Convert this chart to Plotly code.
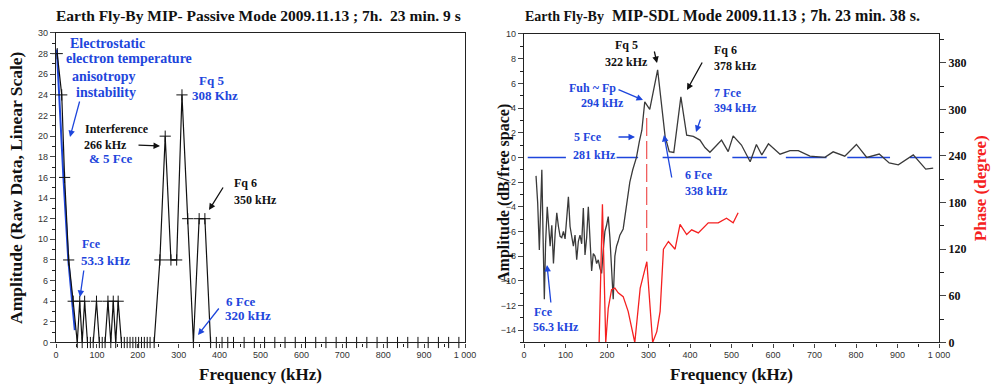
import plotly.graph_objects as go

# ---------------- data ----------------
# Left panel: MIP passive mode (raw amplitude, linear)
left_freq = [3, 14, 21, 31, 42, 52, 58, 64, 70, 77, 84, 91, 99, 106, 113, 120, 127, 134, 140, 146,
             152, 160, 167, 174, 181, 188, 195, 202, 209, 216, 223, 230, 240, 254, 267, 281, 295,
             308, 322, 336, 350, 364, 378, 392, 406, 420, 434, 460, 485, 510, 535, 560, 585, 610,
             635, 660, 685, 710, 735, 760, 785, 810, 835, 860, 885, 910, 935, 960, 985]
left_amp = [28, 24, 16, 8, 4, 0, 4, 0, 4, 0, 0, 0, 4, 0, 0, 0, 4, 0, 4, 0,
            4, 0, 0, 0, 0, 0, 0, 0, 0, 0, 0, 0, 0, 8, 20, 8, 8,
            24, 12, 0, 12, 12, 0, 0, 0, 0, 0, 0, 0, 0, 0, 0, 0, 0,
            0, 0, 0, 0, 0, 0, 0, 0, 0, 0, 0, 0, 0, 0, 0]
left_blue_freq = [2, 7, 18, 30, 46]
left_blue_amp = [28.4, 24.5, 16.1, 8.0, 1.2]

# Right panel: MIP-SDL mode amplitude (dB / free space)
right_freq = [29, 33, 37, 40, 43, 46, 49, 52, 56, 60, 63, 67, 71, 75, 79, 83, 87, 91, 95, 99, 103,
              107, 111, 115, 119, 123, 127, 131, 135, 139, 143, 147, 151, 155, 159, 163, 167, 171,
              175, 179, 183, 187, 191, 195, 199, 203, 207, 211, 215, 219, 223, 227, 231,
              239, 246, 255, 262, 271, 278, 284, 291, 303, 322, 340, 350, 361, 378, 392, 408,
              424, 436, 448, 462, 476, 492, 504, 524, 545, 560, 573, 589, 617, 641, 661, 689,
              725, 745, 773, 801, 826, 856, 880, 902, 938, 968, 986]
right_amp = [-1.5, -3.7, -7.5, -3.0, -1.0, -6.5, -11.5, -7.0, -4.0, -5.8, -7.2, -5.5, -8.6, -6.2,
             -4.5, -5.6, -6.4, -6.5, -6.0, -6.6, -5.2, -3.2, -5.6, -6.6, -7.2, -6.3, -8.3, -6.8,
             -6.3, -7.0, -4.1, -7.9, -6.5, -4.0, -6.7, -9.2, -7.8, -8.0, -8.6, -8.3, -9.0, -9.4,
             -7.5, -6.0, -5.5, -4.8, -6.5, -9.0, -11.5, -8.0, -7.2, -6.8, -6.3,
             -5.8, -4.0, -2.0, -1.0, 0.0, 1.3, 2.2, 4.5, 3.9, 7.1, 1.7, 0.47, 0.4, 4.9, 1.8, 1.7,
             1.4, 0.8, 0.42, 0.9, 1.4, 0.47, 1.74, 1.0, -0.35, 1.05, 0.2, 1.1, 0.26, 0.55, 0.55,
             0.1, 0.0, 0.45, 0.1, 1.05, 0.0, 0.27, -0.45, -0.6, 0.2, -0.95, -0.87]

# Right panel: phase (degree)
phase_freq = [181, 189, 197, 203, 211, 219, 227, 239, 251, 259, 267, 280, 288, 296, 304, 310,
              320, 328, 336, 348, 364, 376, 392, 404, 420, 444, 468, 488, 504, 516]
phase_deg = [0, 178, 0, 44, 68, 70, 64, 59, 40, 18, 0, 70, 87, 104, 44, 0,
             14, 40, 120, 130, 120, 152, 139, 145, 141, 154, 154, 160, 154, 167]

# Marker lines on right panel
fp_line_freq = [295.6, 295.6]
fp_line_amp = [3.2, -7.9]
zero_segments = [(9, 101), (223, 275), (334, 450), (502, 585), (631, 729), (779, 882), (930, 982)]

x_ticks = [0, 100, 200, 300, 400, 500, 600, 700, 800, 900, 1000]
x_ticktext = ["0", "100", "200", "300", "400", "500", "600", "700", "800", "900", "1 000"]
left_yticks = list(range(0, 31, 2))
right_yticks = list(range(-14, 11, 2))
phase_ticks = [0, 60, 120, 180, 240, 300, 360]
phase_ticktext = ["0", "60", "120", "180", "240", "300", "380"]

BLUE = "#1e46dc"
RED = "#f52020"
SERIF = "Liberation Serif, Times New Roman, serif"
SANS = "Liberation Sans, Arial, sans-serif"

fig = go.Figure()

fig.add_trace(go.Scatter(x=left_blue_freq, y=left_blue_amp, mode="lines",
                         line=dict(color=BLUE, width=2), xaxis="x", yaxis="y", showlegend=False))
fig.add_trace(go.Scatter(x=left_freq, y=left_amp, mode="lines+markers",
                         line=dict(color="#111", width=1.2),
                         marker=dict(symbol="cross-thin", size=8, line=dict(color="#111", width=1)),
                         xaxis="x", yaxis="y", showlegend=False, cliponaxis=False))

zx, zy = [], []
for a, b in zero_segments:
    zx += [a, b, None]
    zy += [0, 0, None]
fig.add_trace(go.Scatter(x=zx, y=zy, mode="lines", line=dict(color=BLUE, width=1.5),
                         xaxis="x2", yaxis="y2", showlegend=False))
fig.add_trace(go.Scatter(x=right_freq, y=right_amp, mode="lines",
                         line=dict(color="#3a3a3a", width=1.3), xaxis="x2", yaxis="y2", showlegend=False))
fig.add_trace(go.Scatter(x=fp_line_freq, y=fp_line_amp, mode="lines",
                         line=dict(color="#f06060", width=1.3, dash="18px,5px"),
                         xaxis="x2", yaxis="y2", showlegend=False))
fig.add_trace(go.Scatter(x=phase_freq, y=phase_deg, mode="lines",
                         line=dict(color=RED, width=1.3), xaxis="x2", yaxis="y3", showlegend=False))

tickfont = dict(family=SANS, size=9, color="#333")
common_x = dict(range=[0, 1000], tickvals=x_ticks, ticktext=x_ticktext, ticks="outside", ticklen=4,
                tickwidth=1, showline=True, linecolor="#222", linewidth=1.3, showgrid=False,
                zeroline=False, tickfont=tickfont, automargin=False,
                minor=dict(dtick=50, tick0=0, ticks="outside", ticklen=3, tickcolor="#222"),
                title=dict(text="<b>Frequency (kHz)</b>", font=dict(family=SERIF, size=17, color="#111"),
                           standoff=8))

fig.update_layout(
    width=1000, height=385, autosize=False,
    margin=dict(l=0, r=0, t=0, b=0),
    paper_bgcolor="white", plot_bgcolor="white",
    xaxis=dict(domain=[0.056, 0.465], anchor="y", mirror=True, **common_x),
    yaxis=dict(domain=[0.1104, 0.9143], anchor="x", range=[0, 30], tickvals=left_yticks,
               ticks="outside", ticklen=5, showline=True, linecolor="#222", linewidth=1.3,
               mirror=True, showgrid=False, zeroline=False, tickfont=tickfont, automargin=False,
               minor=dict(dtick=1, tick0=0, ticks="outside", ticklen=3, tickcolor="#222"),
               title=dict(text="<b>Amplitude (Raw Data, Linear Scale)</b>",
                          font=dict(family=SERIF, size=17.5, color="#111"), standoff=10)),
    xaxis2=dict(domain=[0.524, 0.939], anchor="y2", mirror=True, **common_x),
    yaxis2=dict(domain=[0.1104, 0.9117], anchor="x2", range=[-15, 10], tickvals=right_yticks,
                ticks="outside", ticklen=5, showline=True, linecolor="#222", linewidth=1.3,
                mirror=True, showgrid=False, zeroline=False, tickfont=tickfont, automargin=False,
                minor=dict(dtick=1, tick0=0, ticks="outside", ticklen=3, tickcolor="#222")),
    yaxis3=dict(overlaying="y2", side="right", anchor="x2", range=[0, 397], tickvals=phase_ticks,
                ticktext=phase_ticktext, ticks="outside", ticklen=6, showline=True,
                linecolor="#222", linewidth=1.3, showgrid=False, zeroline=False, automargin=False,
                tickfont=dict(family=SERIF, size=12, color="#111", weight="bold"),
                minor=dict(dtick=30, tick0=0, ticks="outside", ticklen=4, tickcolor="#222"),
                title=dict(text="<b>Phase (degree)</b>", font=dict(family=SERIF, size=17, color=RED),
                           standoff=8)),
)


def P(x, y):
    return x / 1000.0, 1 - y / 385.0


def text(x, y, s, color="#111", size=13, xanchor="left", angle=0):
    px, py = P(x, y)
    fig.add_annotation(x=px, y=py, xref="paper", yref="paper", text="<b>" + s + "</b>",
                       showarrow=False, xanchor=xanchor, yanchor="middle", textangle=angle,
                       font=dict(family=SERIF, size=size, color=color))


def arrow(tx, ty, hx, hy, color="#111"):
    px, py = P(hx, hy)
    fig.add_annotation(x=px, y=py, xref="paper", yref="paper", text="", showarrow=True,
                       ax=tx - hx, ay=ty - hy, axref="pixel", ayref="pixel",
                       arrowhead=2, arrowsize=1, arrowwidth=1.3, arrowcolor=color, standoff=0)


# titles
text(258, 15, "Earth Fly-By MIP- Passive Mode 2009.11.13 ; 7h.  23 min. 9 s", size=15.5, xanchor="center")
text(722, 15, "<span style='font-size:14px'>Earth Fly-By</span>  MIP-SDL Mode 2009.11.13 ; 7h. 23 min. 38 s.",
     size=16, xanchor="center")
# right panel left-axis title
text(504, 194, "Amplitude (dB/free space)", "#111", 16, "center", -90)

# left annotations
text(107, 43, "Electrostatic", BLUE, 14, "center")
text(129, 59, "electron temperature", BLUE, 14, "center")
text(104, 76, "anisotropy", BLUE, 14, "center")
text(105.5, 93, "instability", BLUE, 14, "center")
arrow(80, 100, 70, 137, BLUE)
text(83, 129, "Interference", "#111", 12)
text(82, 145, "266 kHz", "#111", 12)
text(87, 158, "&amp; 5 Fce", BLUE, 13)
arrow(137, 145, 160, 146)
text(197, 80, "Fq 5", BLUE, 13)
text(190, 96, "308 Khz", BLUE, 13)
text(232, 183, "Fq 6", "#111", 12)
text(232, 200, "350 kHz", "#111", 12)
arrow(224, 186, 209, 210)
text(80, 244, "Fce", BLUE, 12)
text(79, 260, "53.3 kHz", BLUE, 13)
arrow(84, 269, 80, 297, BLUE)
text(224, 301, "6 Fce", BLUE, 13)
text(223, 315, "320 kHz", BLUE, 13)
arrow(220, 307, 198, 335, BLUE)

# right annotations
text(613, 45, "Fq 5", "#111", 12)
text(603, 62, "322 kHz", "#111", 12)
arrow(654, 50, 657, 63)
text(712, 50, "Fq 6", "#111", 12)
text(712, 66, "378 kHz", "#111", 12)
arrow(703, 61, 687, 90)
text(567, 88, "Fuh ~ Fp", BLUE, 12)
text(579, 103, "294 kHz", BLUE, 12)
arrow(617, 89, 643, 100, BLUE)
text(712, 93, "7 Fce", BLUE, 12)
text(712, 108, "394 kHz", BLUE, 12)
arrow(701, 118, 696, 132, BLUE)
text(572, 137, "5 Fce", BLUE, 12)
text(571, 155, "281 kHz", BLUE, 12)
arrow(617, 137, 635, 137, BLUE)
text(683, 175, "6 Fce", BLUE, 12)
text(683, 191, "338 kHz", BLUE, 12)
arrow(672, 179, 664, 135, BLUE)
text(532, 312, "Fce", BLUE, 12)
text(531, 327, "56.3 kHz", BLUE, 12)
arrow(551, 304, 547, 265, BLUE)

fig.write_html("out.html")
